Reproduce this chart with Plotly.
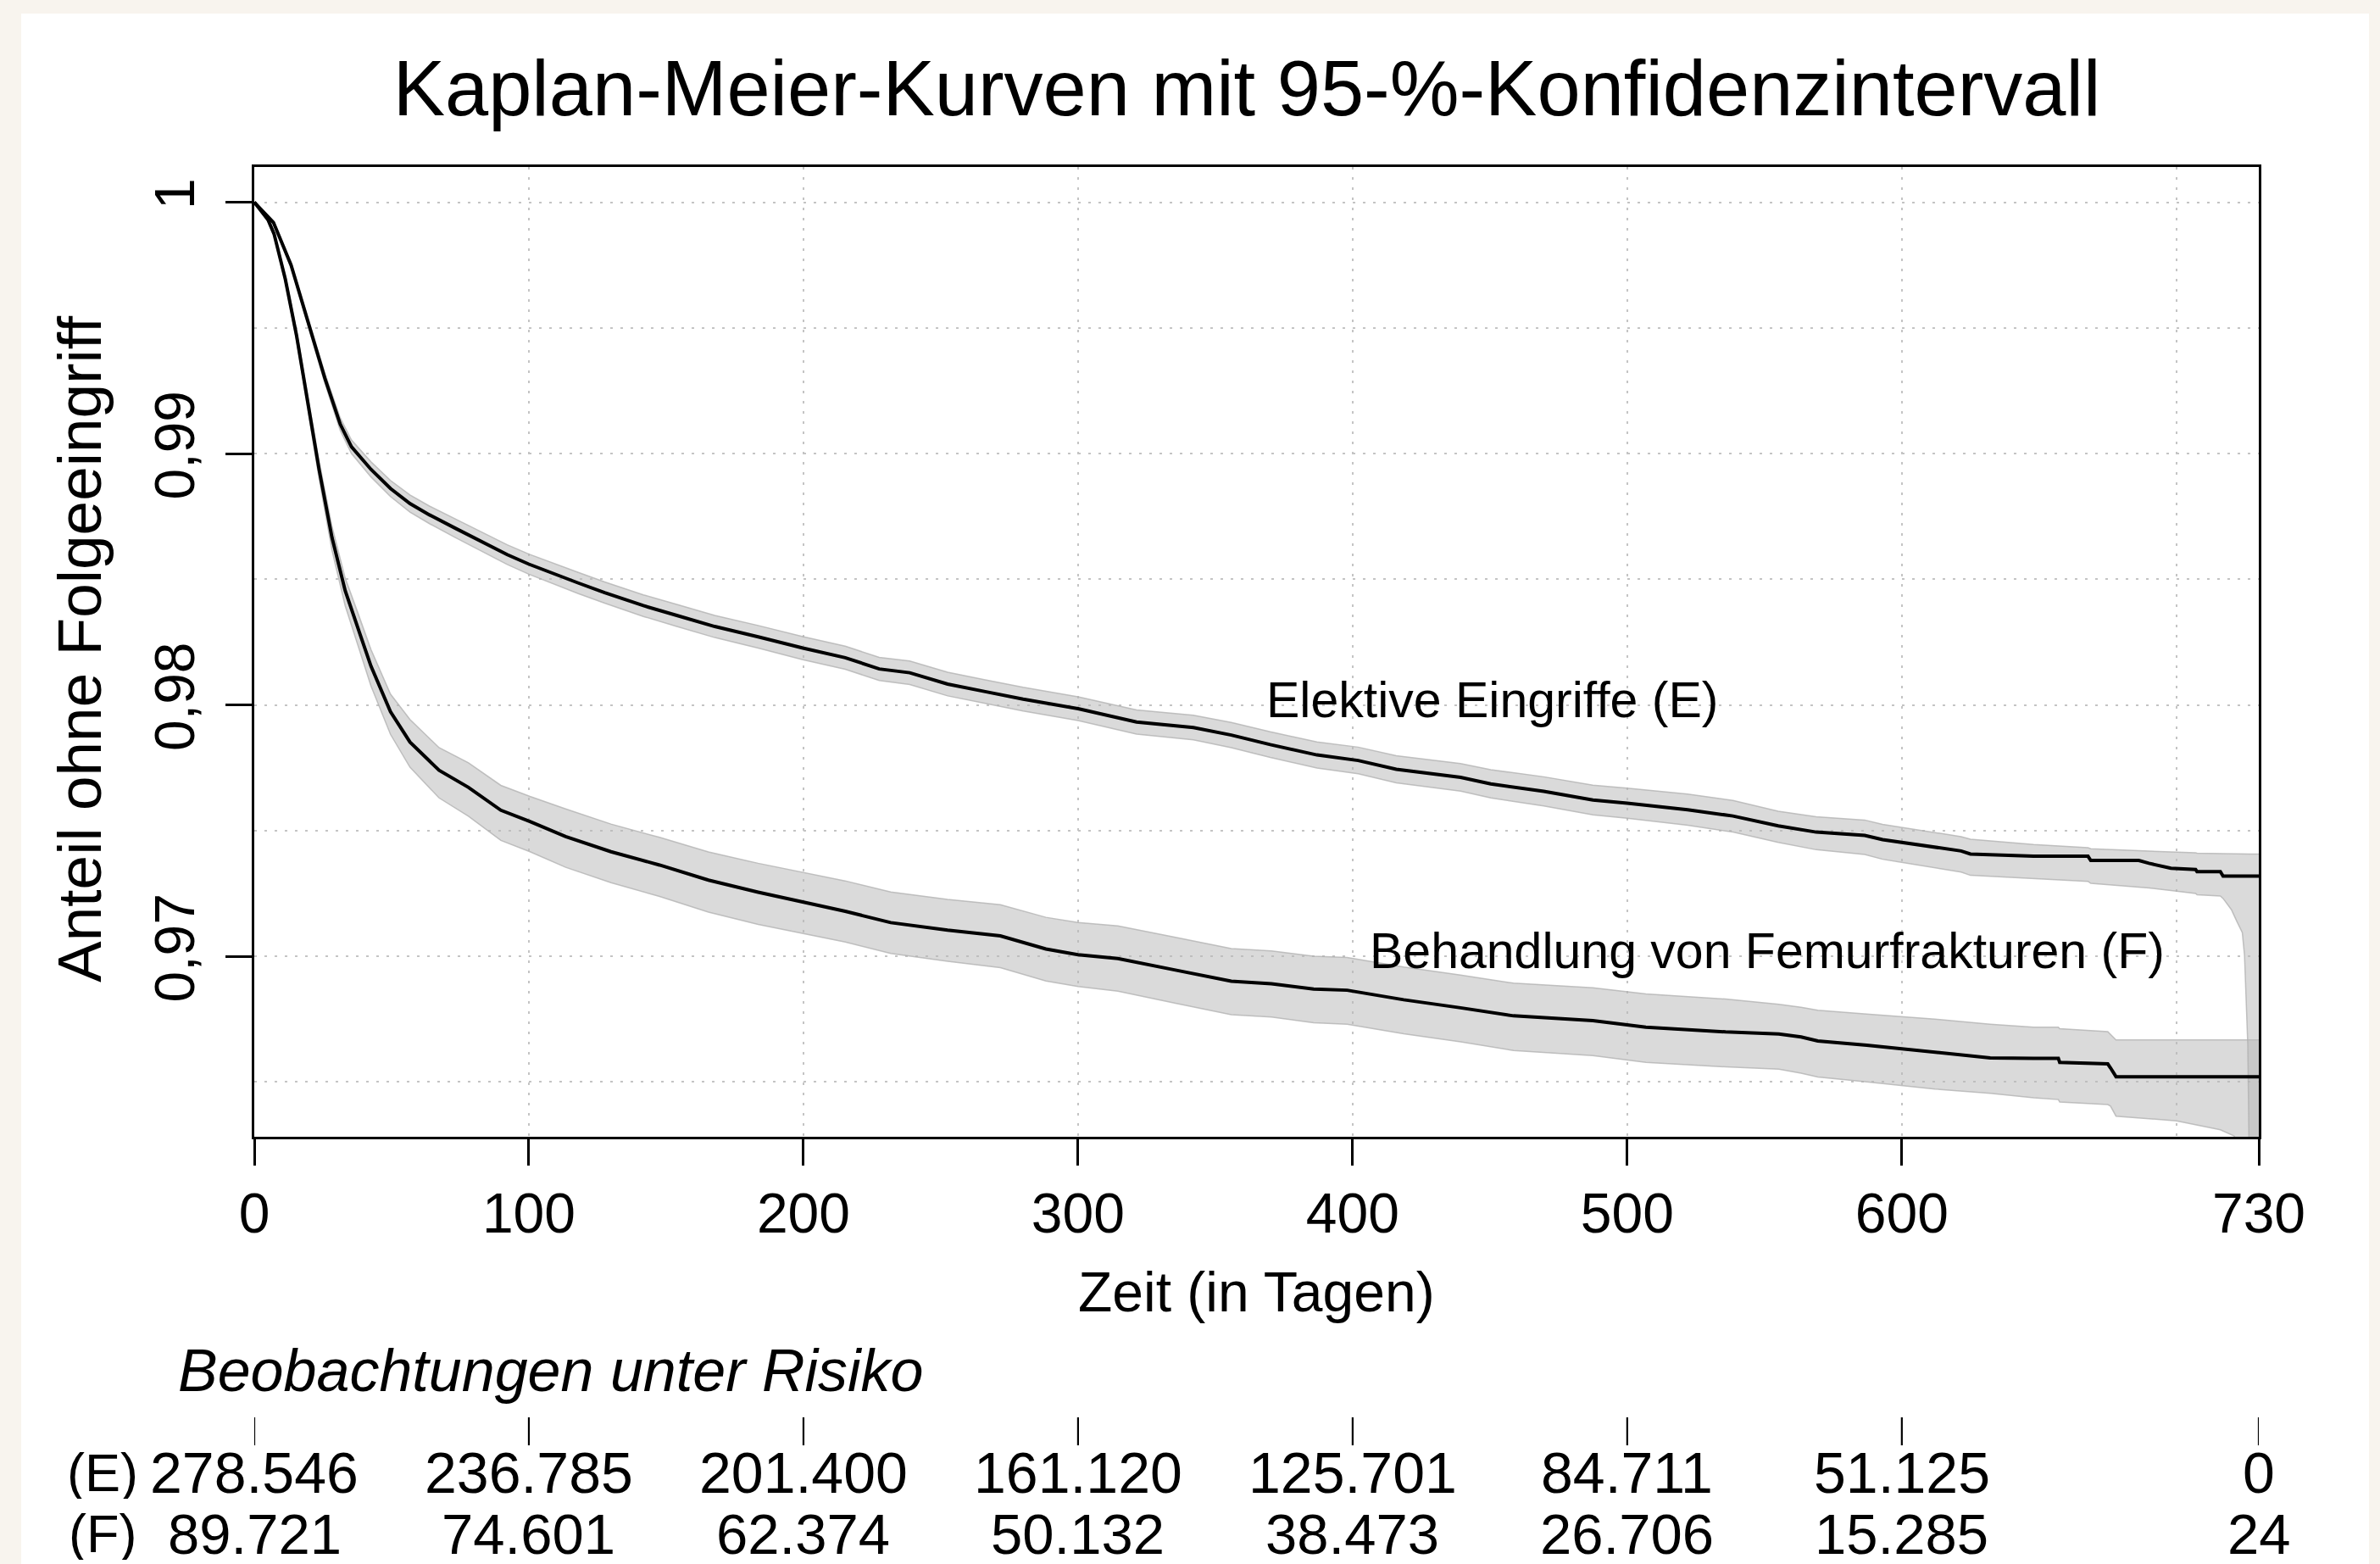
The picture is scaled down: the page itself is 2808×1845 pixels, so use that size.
import plotly.graph_objects as go

# ---------------- data ----------------
# Elective procedures (E): time (days), survival, 95% CI lower/upper
E_t  = [0, 7, 13.4, 19.5, 25.7, 31.3, 35.4, 42.5, 49.6, 56.7, 63.8, 73.2, 82.7, 92.1, 100,
        108.7, 118, 127.6, 141.7, 153.6, 167.7, 183.5, 199.8, 215.2, 227.6, 238.7, 252.5,
        266.2, 280, 300, 321.3, 342, 355.8, 370, 387, 402, 415.9, 439.3, 450.3, 469.6,
        487.5, 500, 522, 538.5, 555, 568.8, 586.5, 593, 621.6, 625, 648, 667.8, 668.8,
        686.3, 690, 698, 707, 707.5, 716, 717, 720, 722, 724, 724.8, 725.4, 726, 726.4, 727, 730]
E_s  = [1, 0.99919, 0.9975, 0.99525, 0.9930, 0.99117, 0.99027, 0.98937, 0.98861, 0.98801,
        0.98756, 0.98703, 0.98651, 0.98598, 0.98560, 0.98523, 0.98485, 0.98447, 0.98395,
        0.98357, 0.98312, 0.98271, 0.98226, 0.98188, 0.98143, 0.98128, 0.98083, 0.98053,
        0.98023, 0.97985, 0.97932, 0.97910, 0.97880, 0.97842, 0.97801, 0.97779, 0.97744,
        0.97712, 0.97686, 0.97656, 0.97622, 0.97609, 0.97583, 0.97558, 0.97519, 0.97494,
        0.97481, 0.97464, 0.97419, 0.97407, 0.97398, 0.97398, 0.97381, 0.97381, 0.97370,
        0.97350, 0.97345, 0.97337, 0.97337, 0.97319, 0.97319, 0.97319, 0.97319, 0.97319,
        0.97319, 0.97319, 0.97319, 0.97319, 0.97319]
E_lo = [1, 0.99913, 0.9974, 0.9951, 0.9928, 0.99092, 0.99000, 0.98907, 0.98829, 0.98767,
        0.98721, 0.98666, 0.98613, 0.98559, 0.98520, 0.98482, 0.98443, 0.98405, 0.98352,
        0.98313, 0.98268, 0.98226, 0.98180, 0.98142, 0.98097, 0.98081, 0.98036, 0.98006,
        0.97976, 0.97938, 0.97884, 0.97861, 0.97830, 0.97791, 0.97749, 0.97726, 0.97690,
        0.97657, 0.97630, 0.97598, 0.97563, 0.97549, 0.97521, 0.97494, 0.97453, 0.97424,
        0.97405, 0.97386, 0.97335, 0.97322, 0.97310, 0.97298, 0.97290, 0.97276, 0.97272,
        0.97262, 0.97250, 0.97245, 0.97240, 0.97230, 0.97186, 0.97139, 0.97094, 0.97004,
        0.96814, 0.96646, 0.96285, 0.955, 0.955]
E_hi = [1, 0.99925, 0.9976, 0.9954, 0.9932, 0.99142, 0.99054, 0.98967, 0.98893, 0.98835,
        0.98791, 0.98740, 0.98689, 0.98637, 0.98600, 0.98564, 0.98527, 0.98489, 0.98438,
        0.98401, 0.98356, 0.98316, 0.98272, 0.98234, 0.98189, 0.98175, 0.98130, 0.98100,
        0.98070, 0.98032, 0.97980, 0.97959, 0.97930, 0.97893, 0.97853, 0.97832, 0.97798,
        0.97767, 0.97742, 0.97714, 0.97681, 0.97669, 0.97645, 0.97620, 0.97577, 0.97555,
        0.97542, 0.97525, 0.97476, 0.97466, 0.97445, 0.97432, 0.97428, 0.97420, 0.97419,
        0.97415, 0.97412, 0.97410, 0.97408, 0.97407, 0.97407, 0.97407, 0.97407, 0.97407,
        0.97407, 0.97407, 0.97407, 0.97407, 0.97407]

# Femur fracture treatment (F)
F_t  = [0, 5, 7.2, 11.3, 15.4, 20.7, 23.6, 28.3, 33.1, 37.8, 42.5, 49.6, 56.7, 67.3, 78,
        89.8, 100.4, 113.4, 129.9, 147.6, 165.4, 183.5, 199.8, 215.2, 231.8, 252.5, 271.7,
        288.3, 300, 314.5, 335.1, 355.8, 370.4, 385.8, 398, 418.6, 439.3, 458.6, 487.5,
        506.8, 535.8, 555.2, 563.3, 569.4, 587.2, 612.1, 632.2, 648, 657, 657.5, 675, 676,
        678, 700, 716, 721, 725, 730]
F_s  = [1, 0.99930, 0.99874, 0.99694, 0.99469, 0.99130, 0.98937, 0.98666, 0.98455, 0.98304,
        0.98154, 0.97973, 0.97852, 0.97740, 0.97672, 0.97581, 0.97536, 0.97476, 0.97416,
        0.97363, 0.97303, 0.97255, 0.97217, 0.97179, 0.97134, 0.97104, 0.97081, 0.97029,
        0.97006, 0.96991, 0.96946, 0.96901, 0.96891, 0.96870, 0.96865, 0.96827, 0.96795,
        0.96763, 0.96744, 0.96718, 0.96699, 0.96691, 0.96679, 0.96663, 0.96646, 0.96618,
        0.96596, 0.96594, 0.96594, 0.96578, 0.96572, 0.96556, 0.96521, 0.96521, 0.96521,
        0.96521, 0.96521, 0.96521]
F_lo = [1, 0.99922, 0.99866, 0.99680, 0.99450, 0.99100, 0.98900, 0.98615, 0.98395, 0.98235,
        0.98075, 0.97883, 0.97752, 0.97630, 0.97557, 0.97461, 0.97416, 0.97354, 0.97293,
        0.97238, 0.97176, 0.97127, 0.97092, 0.97057, 0.97011, 0.96980, 0.96955, 0.96902,
        0.96880, 0.96861, 0.96814, 0.96768, 0.96758, 0.96736, 0.96730, 0.96692, 0.96660,
        0.96625, 0.96605, 0.96578, 0.96560, 0.96551, 0.96535, 0.96520, 0.96500, 0.96472,
        0.96455, 0.96437, 0.96430, 0.96420, 0.96410, 0.96404, 0.96364, 0.96345, 0.96310,
        0.96285, 0.9620, 0.9610]
F_hi = [1, 0.99938, 0.99882, 0.99708, 0.99488, 0.99160, 0.98970, 0.98710, 0.98505, 0.98364,
        0.98220, 0.98043, 0.97942, 0.97830, 0.97770, 0.97680, 0.97636, 0.97586, 0.97526,
        0.97473, 0.97415, 0.97370, 0.97335, 0.97300, 0.97256, 0.97226, 0.97205, 0.97155,
        0.97134, 0.97121, 0.97076, 0.97031, 0.97021, 0.97000, 0.96995, 0.96957, 0.96925,
        0.96893, 0.96875, 0.96850, 0.96830, 0.96809, 0.96797, 0.96785, 0.96770, 0.96750,
        0.96730, 0.96718, 0.96718, 0.96712, 0.96700, 0.96690, 0.96667, 0.96667, 0.96667,
        0.96667, 0.96667, 0.96667]

# Numbers at risk
risk_times = [0, 100, 200, 300, 400, 500, 600, 730]
risk_E = [278546, 236785, 201400, 161120, 125701, 84711, 51125, 0]
risk_F = [89721, 74601, 62374, 50132, 38473, 26706, 15285, 24]

x_tickvals = [0, 100, 200, 300, 400, 500, 600, 730]
y_tickvals = [0.97, 0.98, 0.99, 1.0]
y_ticktext = ["0,97", "0,98", "0,99", "1"]

title_text = "Kaplan-Meier-Kurven mit 95-%-Konfidenzintervall"
x_title = "Zeit (in Tagen)"
y_title = "Anteil ohne Folgeeingriff"
label_E = "Elektive Eingriffe (E)"
label_F = "Behandlung von Femurfrakturen (F)"
risk_header = "Beobachtungen unter Risiko"


def de_num(n):
    return f"{n:,}".replace(",", ".")


FONT = "Liberation Sans, Arial, Helvetica, sans-serif"
BAND_FILL = "rgba(185,185,185,0.52)"
BAND_EDGE = "rgba(175,175,175,0.75)"

fig = go.Figure()

for t, lo, hi in [(F_t, F_lo, F_hi), (E_t, E_lo, E_hi)]:
    fig.add_trace(go.Scatter(x=t, y=lo, mode="lines", line=dict(color=BAND_EDGE, width=1.5),
                             showlegend=False, hoverinfo="skip"))
    fig.add_trace(go.Scatter(x=t, y=hi, mode="lines", line=dict(color=BAND_EDGE, width=1.5),
                             fill="tonexty", fillcolor=BAND_FILL, showlegend=False, hoverinfo="skip"))

for t, s in [(F_t, F_s), (E_t, E_s)]:
    fig.add_trace(go.Scatter(x=t, y=s, mode="lines", line=dict(color="black", width=4),
                             showlegend=False))

# geometry helpers (plot area: x 300..2665, y 197..1341 in a 2808x1845 canvas)
L, R, T, B = 300, 2665, 197, 1341
W, H = R - L, B - T


def px(xp):
    return (xp - L) / W


def py(yp):
    return (B - yp) / H


shapes = [dict(type="rect", xref="paper", yref="paper", x0=px(25), x1=px(2795),
               y0=py(1900), y1=py(16), fillcolor="white", line=dict(width=0), layer="below")]
for tt in risk_times:
    shapes.append(dict(type="line", xref="x", yref="paper", x0=tt, x1=tt,
                       y0=py(1705), y1=py(1672), line=dict(color="black", width=2.2)))


def ann(text, x, y, size, xref="paper", yref="paper", xanchor="center", **kw):
    return dict(text=text, x=x, y=y, xref=xref, yref=yref, xanchor=xanchor, yanchor="middle",
                showarrow=False, font=dict(size=size, color="black", family=FONT), **kw)


ROW_E, ROW_F = 1737, 1809
ROW_H = 62

annotations = [
    ann(label_E, 450.8, 0.98019, 59, xref="x", yref="y"),
    ann(label_F, 551, 0.9702, 59, xref="x", yref="y"),
    ann(x_title, 0.5, py(1524), 66),
    ann(y_title, px(93), py(766), 73, textangle=-90),
    ann("<i>" + risk_header + "</i>", px(208), py(1617), 70, xanchor="left"),
    ann("(E)", px(121), py(ROW_E), 63, height=ROW_H),
    ann("(F)", px(121), py(ROW_F), 63, height=ROW_H),
]
for tt, ne, nf in zip(risk_times, risk_E, risk_F):
    annotations.append(ann(de_num(ne), tt, py(ROW_E), 68, xref="x", height=ROW_H))
    annotations.append(ann(de_num(nf), tt, py(ROW_F), 67, xref="x", height=ROW_H))

GRID = "#c4c4c4"
DASH = "3px,9px"

fig.update_layout(
    width=2808, height=1845, autosize=False,
    margin=dict(l=L, r=2808 - R, t=T, b=1845 - B, pad=0),
    paper_bgcolor="#f8f4ee", plot_bgcolor="white",
    font=dict(family=FONT, color="black"),
    title=dict(text=title_text, x=(1471 - L) / W, xref="paper", xanchor="center",
               y=1 - 104 / 1845, yref="container", yanchor="middle",
               font=dict(size=92, color="black", family=FONT)),
    shapes=shapes, annotations=annotations, showlegend=False,
    xaxis=dict(range=[0, 730], tickmode="array", tickvals=x_tickvals,
               ticktext=[str(v) for v in x_tickvals],
               ticks="outside", ticklen=31, tickwidth=3, tickcolor="black",
               tickfont=dict(size=66, color="black", family=FONT),
               showline=True, linewidth=3, linecolor="black", mirror=True,
               showgrid=True, gridcolor=GRID, gridwidth=2, griddash=DASH, zeroline=False,
               minor=dict(tick0=0, dtick=100, showgrid=True, gridcolor=GRID, gridwidth=2,
                          griddash=DASH, ticks="")),
    yaxis=dict(range=[0.96282, 1.0014], tickmode="array", tickvals=y_tickvals,
               ticktext=y_ticktext, tickangle=-90, ticklabelstandoff=11,
               ticks="outside", ticklen=31, tickwidth=3, tickcolor="black",
               tickfont=dict(size=66, color="black", family=FONT),
               showline=True, linewidth=3, linecolor="black", mirror=True,
               showgrid=True, gridcolor=GRID, gridwidth=2, griddash=DASH, zeroline=False,
               minor=dict(tick0=0.965, dtick=0.005, showgrid=True, gridcolor=GRID, gridwidth=2,
                          griddash=DASH, ticks="")),
)

fig.write_html("out.html", config={"displayModeBar": False},
               post_script="document.body.style.margin='0';document.body.style.padding='0';"
                           "document.body.style.background='#f8f4ee';"
                           "document.documentElement.style.overflow='hidden';")
